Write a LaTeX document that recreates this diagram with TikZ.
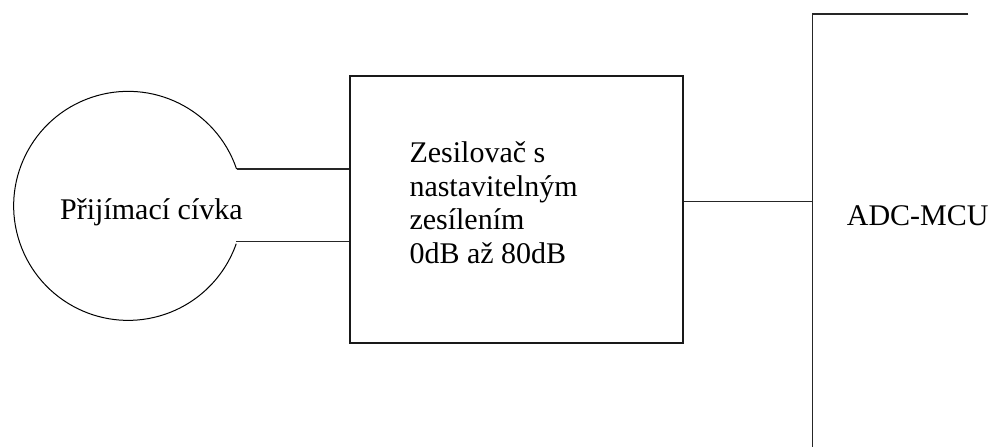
\documentclass[tikz,border=0pt]{standalone}
\usepackage{fontspec}
\setmainfont{Liberation Serif}
\begin{document}
\begin{tikzpicture}[x=1pt,y=-1pt,
  wire/.style={line width=1.2pt,black!85},
  block/.style={draw,line width=2pt,black!90,inner sep=0pt},
  label/.style={inner sep=0pt,font=\fontsize{30}{33.5}\selectfont,text=black},
]
\useasboundingbox (0,0) rectangle (989,447);

% receiving coil: a circle opened on the right for its two leads
\node[circle,minimum size=229pt,inner sep=0pt] (coil) at (127.5,204.5) {};
\draw[line width=1pt,black] (coil.18.75) arc[start angle=18.75,end angle=340.7,radius=114.5pt];
\node[label,anchor=base west] (coiltxt) at (60,219) {Přijímací cívka};

% amplifier block
\node[block,minimum width=332.7pt,minimum height=267.6pt] (amp) at (516.35,209.5) {};
% the base of a multi-line node is the baseline of its last line
\node[label,anchor=base west,align=left] (amptxt) at (409.3,263.3)
  {Zesilovač s\\nastavitelným\\zesílením\\0dB až 80dB};

% coil leads into the amplifier
\draw[wire] (coil.18.75) -- (coil.18.75 -| amp.west);
\draw[wire] (coil.-19.3) -- (coil.-19.3 -| amp.west);

% ADC-MCU boundary
\coordinate (bus) at (812.7,14);
\coordinate (busend) at (968.3,14);
\coordinate (busbot) at (812.7,447);
\draw[wire] (busend) -- (bus) -- (busbot);
\node[label,anchor=base west] (mcu) at (846.7,225) {ADC-MCU};

% amplifier output to the converter
\draw[wire] ([yshift=7.8pt]amp.east) -- ([yshift=7.8pt]amp.east -| bus);
\end{tikzpicture}
\end{document}
